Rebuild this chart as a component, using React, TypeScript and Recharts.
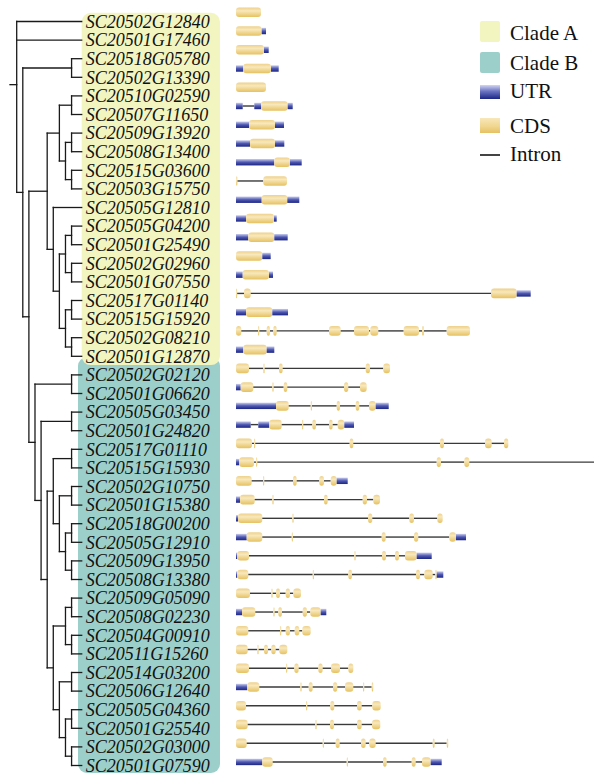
import React from 'react';
import { ComposedChart, XAxis, YAxis, Bar, ReferenceLine, ReferenceArea, Legend } from 'recharts';

// ---------- data ----------
const geneIds = [
  'SC20502G12840', 'SC20501G17460', 'SC20518G05780', 'SC20502G13390', 'SC20510G02590',
  'SC20507G11650', 'SC20509G13920', 'SC20508G13400', 'SC20515G03600', 'SC20503G15750',
  'SC20505G12810', 'SC20505G04200', 'SC20501G25490', 'SC20502G02960', 'SC20501G07550',
  'SC20517G01140', 'SC20515G15920', 'SC20502G08210', 'SC20501G12870',
  'SC20502G02120', 'SC20501G06620', 'SC20505G03450', 'SC20501G24820', 'SC20517G01110',
  'SC20515G15930', 'SC20502G10750', 'SC20501G15380', 'SC20518G00200', 'SC20505G12910',
  'SC20509G13950', 'SC20508G13380', 'SC20509G05090', 'SC20508G02230', 'SC20504G00910',
  'SC20511G15260', 'SC20514G03200', 'SC20506G12640', 'SC20505G04360', 'SC20501G25540',
  'SC20502G03000', 'SC20501G07590',
];

type Feature = [string, number, number]; // U = UTR, C = CDS, I = intron (explicit)
const geneFeatures: Feature[][] = [
  [['C', 0, 25]],
  [['C', 0, 25.7], ['U', 25.7, 30]],
  [['C', 0, 28], ['U', 28, 32.7]],
  [['U', 0, 7.3], ['C', 7.3, 35], ['U', 35, 42.7]],
  [['C', 0, 30]],
  [['U', 0, 6.7], ['U', 18.3, 25], ['C', 25, 51.7], ['U', 51.7, 56.7]],
  [['U', 0, 13], ['C', 13, 39], ['U', 39, 48]],
  [['U', 0, 14], ['C', 14, 39], ['U', 39, 48.3]],
  [['U', 0, 38.3], ['C', 38.3, 54], ['U', 54, 65.7]],
  [['C', 0, 1.5], ['C', 27.3, 51]],
  [['U', 0, 25.7], ['C', 25.7, 51.3], ['U', 51.3, 63.3]],
  [['U', 0, 10], ['C', 10, 38], ['U', 38, 40.7]],
  [['U', 0, 12.3], ['C', 12.3, 38.3], ['U', 38.3, 51.7]],
  [['C', 0, 26.3], ['U', 26.3, 34.7]],
  [['U', 0, 6.7], ['C', 6.7, 33], ['U', 33, 37]],
  [['C', 0, 1.2], ['C', 8, 14.7], ['C', 255, 280.7], ['U', 280.7, 294.7]],
  [['U', 0, 10], ['C', 10, 36.3], ['U', 36.3, 52]],
  [['C', 0, 5.3], ['C', 22, 23.3], ['C', 30.7, 34], ['C', 37.3, 40.7], ['C', 93, 104.7], ['C', 118, 133], ['C', 134.3, 142.3], ['C', 167.7, 183], ['C', 186, 188], ['C', 210.7, 234]],
  [['U', 0, 7.3], ['C', 7.3, 30.7], ['U', 30.7, 38.3]],
  [['C', 0, 13], ['C', 27.3, 28.7], ['C', 43, 46.7], ['C', 129.7, 134], ['C', 147.3, 154]],
  [['U', 0, 4.7], ['C', 4.7, 17.3], ['C', 36.3, 37.7], ['C', 47.7, 51.3], ['C', 108, 112.3], ['C', 124, 130.7]],
  [['U', 0, 40], ['C', 40, 52.7], ['C', 74.7, 76], ['C', 100.7, 104], ['C', 119.7, 123.3], ['C', 133, 139.7], ['U', 139.7, 152.7]],
  [['U', 0, 14.7], ['U', 22.3, 33.3], ['C', 33.3, 45.7], ['C', 66, 67.3], ['C', 76.3, 80], ['C', 93, 96.7], ['C', 101.7, 108.3], ['U', 108.3, 118]],
  [['C', 0, 16], ['C', 18, 19.3], ['C', 113.7, 117.3], ['C', 204, 208], ['C', 249, 255.7], ['C', 268, 272.3]],
  [['U', 0, 3.3], ['C', 3.3, 18], ['C', 20, 21.3], ['C', 200.7, 205], ['C', 228.3, 233.3], ['I', 233.3, 358]],
  [['C', 0, 15.7], ['C', 27, 28.3], ['C', 57, 60.7], ['C', 83.3, 88], ['C', 94.7, 100.7], ['U', 100.7, 111.7]],
  [['U', 0, 4], ['C', 4, 18.7], ['C', 36.3, 37.7], ['C', 88, 91.7], ['C', 126.7, 131], ['C', 137.3, 144]],
  [['U', 0, 2], ['C', 2, 26.3], ['C', 56.3, 57.7], ['C', 132, 136.3], ['C', 173.3, 178], ['C', 201.3, 206.7]],
  [['U', 0, 10.7], ['C', 10.7, 26.3], ['C', 55.7, 57], ['C', 145.7, 149.7], ['C', 178, 182.3], ['C', 213.3, 220], ['U', 220, 230]],
  [['U', 0, 1.3], ['C', 1.3, 13], ['C', 118.3, 119.7], ['C', 146, 150], ['C', 159, 163], ['C', 169, 180.7], ['U', 180.7, 195.7]],
  [['U', 0, 1.3], ['C', 1.3, 12.3], ['C', 76.7, 78], ['C', 112.3, 116], ['C', 180, 184], ['C', 188.3, 196.7], ['C', 199.3, 200.7], ['U', 200.7, 207.3]],
  [['C', 0, 14], ['C', 35.3, 36.7], ['C', 40, 44], ['C', 49.7, 54], ['C', 57.3, 65]],
  [['U', 0, 6], ['C', 6, 19.3], ['C', 37.3, 38.7], ['C', 42.3, 46], ['C', 66.7, 71], ['C', 74.3, 84.7], ['U', 84.7, 90.3]],
  [['C', 0, 12.3], ['C', 44, 45.3], ['C', 49.7, 54], ['C', 58.7, 63.3], ['C', 66.3, 74.7]],
  [['C', 0, 11.7], ['C', 21.3, 22.7], ['C', 28, 32], ['C', 35.3, 39.7], ['C', 43.3, 51.3]],
  [['C', 0, 13], ['C', 50, 51.3], ['C', 58.3, 62.7], ['C', 82.3, 86.7], ['C', 95, 104], ['C', 112.3, 117.3]],
  [['U', 0, 11.3], ['C', 11.3, 23.3], ['C', 64.3, 65.7], ['C', 72.7, 76.7], ['C', 97, 101.3], ['C', 109, 117.3], ['C', 127, 128.3], ['C', 135.7, 137.3]],
  [['C', 0, 10], ['C', 70, 71.3], ['C', 94.3, 98.3], ['C', 121, 125.7], ['C', 136.3, 144.7]],
  [['C', 0, 11.7], ['C', 79.3, 80.7], ['C', 94, 98], ['C', 121, 125.7], ['C', 136, 144.3]],
  [['C', 0, 10.7], ['C', 86.7, 88], ['C', 99.7, 103.7], ['C', 125, 129.7], ['C', 133.3, 139.7], ['C', 196.7, 198.7], ['C', 210.7, 212.3]],
  [['U', 0, 26.3], ['C', 26.3, 36.7], ['C', 110.7, 112], ['C', 147, 150.7], ['C', 175.7, 179.7], ['C', 186, 194.7], ['U', 194.7, 205.7]],
];

// tree topology (leaf = row index)
type Tree = number | Tree[];
const subE: Tree = [[4, 5], [[6, 7], [8, 9]]];
const subF: Tree = [10, [[[11, 12], [13, 14]], [[15, 16], [17, 18]]]];
const subP: Tree = [[23, 24], [[25, 26], [[27, 28], [29, 30]]]];
const subQ: Tree = [[[31, 32], [33, 34]], [[35, 36], [[37, 38], [39, 40]]]];
const subK: Tree = [[19, 20], [[21, 22], [subP, subQ]]];
const tree: Tree = [0, 1, [[2, 3], [[subE, subF], subK]]];

const legendItems = ['Clade A', 'Clade B', 'UTR', 'CDS', 'Intron'];

// ---------- colors / styles ----------
const CLADE_A = '#f3f5c1';
const CLADE_B = '#9dcfca';
const SERIF = '"Liberation Serif", "Times New Roman", serif';

// ---------- tree layout ----------
type Node = { h: number; y: number; children: Node[] };
function layout(t: Tree): Node {
  if (typeof t === 'number') return { h: 0, y: t, children: [] };
  const ch = t.map(layout);
  return {
    h: 1 + Math.max(...ch.map((c) => c.h)),
    y: ch.reduce((s, c) => s + c.y, 0) / ch.length,
    children: ch,
  };
}
const root = layout(tree);
const LEAF_END = -0.66;
const STUB = 11.1;
type Seg = [{ x: number; y: number }, { x: number; y: number }];
const treeSegs: Seg[] = [];
function walk(n: Node) {
  if (!n.children.length) return;
  const ys = n.children.map((c) => c.y);
  treeSegs.push([{ x: n.h, y: Math.min(...ys) }, { x: n.h, y: Math.max(...ys) }]);
  n.children.forEach((c) => {
    treeSegs.push([{ x: n.h, y: c.y }, { x: c.children.length ? c.h : LEAF_END, y: c.y }]);
    walk(c);
  });
}
walk(root);
treeSegs.push([{ x: STUB, y: root.y }, { x: root.h, y: root.y }]);

// ---------- gene rows ----------
const geneRows = geneIds.map((id, r) => {
  const row: any = { id };
  let pos = 0;
  let k = 0;
  geneFeatures[r].forEach(([t, s, e]) => {
    if (s > pos + 0.01) {
      row['s' + k] = s - pos;
      row['t' + k] = 'I';
      k++;
    }
    row['s' + k] = e - s;
    row['t' + k] = t;
    k++;
    pos = e;
  });
  row.n = k;
  return row;
});
const maxSegs = Math.max(...geneRows.map((r) => r.n));
geneRows.forEach((r) => {
  for (let k = r.n; k < maxSegs; k++) r['s' + k] = 0;
});

function renderSeg(p: any, i: number) {
  const t = p && p.payload ? p.payload['t' + i] : undefined;
  const w = Number(p.width);
  if (!t || !(w > 0)) return <g />;
  const cy = p.y + p.height / 2;
  if (t === 'I') {
    return <line x1={p.x} x2={p.x + w} y1={cy} y2={cy} stroke="#3a3a3a" strokeWidth={1.4} />;
  }
  if (t === 'U') {
    return <rect x={p.x} y={cy - 3.2} width={w} height={6.4} fill="url(#utrGrad)" />;
  }
  const r = Math.min(3, w / 2);
  return <rect x={p.x} y={cy - 4.8} width={w} height={9.6} rx={r} ry={Math.min(3, 4.8)} fill="url(#cdsGrad)" />;
}

// ---------- legend ----------
const legendMarker = [
  { top: 21, h: 21, bg: CLADE_A, radius: 2 },
  { top: 52, h: 21, bg: CLADE_B, radius: 2 },
  { top: 85, h: 14, bg: 'linear-gradient(to bottom, #d4d6f2 0%, #6a73c2 45%, #1c2683 100%)', radius: 0 },
  { top: 118, h: 15, bg: 'linear-gradient(to bottom, #f7e7bb 0%, #f0d68f 55%, #e6c163 100%)', radius: 0 },
  { top: 154, h: 1.5, bg: '#444', radius: 0 },
];
const legendTextCenter = [33, 63, 91, 126, 154];

function LegendContent() {
  return (
    <div style={{ position: 'relative', width: 594, height: 180 }}>
      {legendItems.map((label, i) => (
        <React.Fragment key={label}>
          <div
            style={{
              position: 'absolute',
              left: 480,
              top: legendMarker[i].top,
              width: 20,
              height: legendMarker[i].h,
              background: legendMarker[i].bg,
              borderRadius: legendMarker[i].radius,
            }}
          />
          <div
            style={{
              position: 'absolute',
              left: 510,
              top: legendTextCenter[i] - 13,
              height: 26,
              lineHeight: '26px',
              fontSize: 21,
              fontFamily: SERIF,
              color: '#111',
              whiteSpace: 'nowrap',
            }}
          >
            {label}
          </div>
        </React.Fragment>
      ))}
    </div>
  );
}

const rowTicks = geneIds.map((_, i) => i);

export default function App() {
  return (
    <div style={{ position: 'absolute', left: 0, top: 0, width: 594, height: 776, background: '#fff', overflow: 'hidden' }}>
      <div style={{ position: 'absolute', left: 0, top: 0 }}>
        <ComposedChart
          width={240}
          height={776}
          data={geneRows}
          margin={{ top: 21.5, bottom: 10.5, left: 16.7, right: 8.3 }}
        >
          <XAxis type="number" dataKey="n" hide domain={[LEAF_END, 10]} reversed allowDataOverflow />
          <YAxis
            yAxisId={0}
            type="number"
            orientation="right"
            domain={[0, 40]}
            reversed
            allowDataOverflow
            ticks={rowTicks}
            interval={0}
            tickFormatter={(v: number) => geneIds[v]}
            width={150}
            axisLine={false}
            tickLine={false}
            tickSize={0}
            tickMargin={4}
            tick={{ fontSize: 18, fontStyle: 'italic', fontFamily: SERIF, fill: '#111' }}
          />
          <ReferenceArea
            x1={-0.053}
            x2={-23.34}
            y1={18.04}
            y2={40.4}
            ifOverflow="visible"
            shape={(p: any) => <rect x={p.x} y={p.y} width={p.width} height={p.height} rx={9} fill={CLADE_B} />}
          />
          <ReferenceArea
            x1={-0.66}
            x2={-23.34}
            y1={-0.47}
            y2={18.47}
            ifOverflow="visible"
            shape={(p: any) => <rect x={p.x} y={p.y} width={p.width} height={p.height} rx={9} fill={CLADE_A} />}
          />
          {treeSegs.map((s, i) => (
            <ReferenceLine
              key={'t' + i}
              segment={s}
              ifOverflow="visible"
              stroke="#1a1a1a"
              strokeWidth={1.3}
              strokeLinecap="square"
            />
          ))}
        </ComposedChart>
      </div>
      <div style={{ position: 'absolute', left: 0, top: 0 }}>
        <ComposedChart
          layout="vertical"
          width={594}
          height={776}
          data={geneRows}
          margin={{ top: 3.3, bottom: 4.3, left: 236, right: 0 }}
        >
          <defs>
            <linearGradient id="cdsGrad" x1="0" y1="0" x2="0" y2="1">
              <stop offset="0%" stopColor="#eed08a" />
              <stop offset="35%" stopColor="#f8e8bc" />
              <stop offset="100%" stopColor="#e6c15f" />
            </linearGradient>
            <linearGradient id="utrGrad" x1="0" y1="0" x2="0" y2="1">
              <stop offset="0%" stopColor="#c9cdee" />
              <stop offset="50%" stopColor="#4e58b2" />
              <stop offset="100%" stopColor="#1c2683" />
            </linearGradient>
          </defs>
          <XAxis type="number" hide domain={[0, 358]} allowDataOverflow />
          <YAxis type="category" dataKey="id" hide />
          {Array.from({ length: maxSegs }, (_, i) => (
            <Bar
              key={'s' + i}
              dataKey={'s' + i}
              stackId="g"
              barSize={10}
              isAnimationActive={false}
              shape={(p: any) => renderSeg(p, i)}
            />
          ))}
          <Legend
            layout="horizontal"
            verticalAlign="middle"
            align="center"
            wrapperStyle={{ left: 0, top: 0, width: 594, height: 180, pointerEvents: 'none' }}
            content={() => <LegendContent />}
          />
        </ComposedChart>
      </div>
    </div>
  );
}
